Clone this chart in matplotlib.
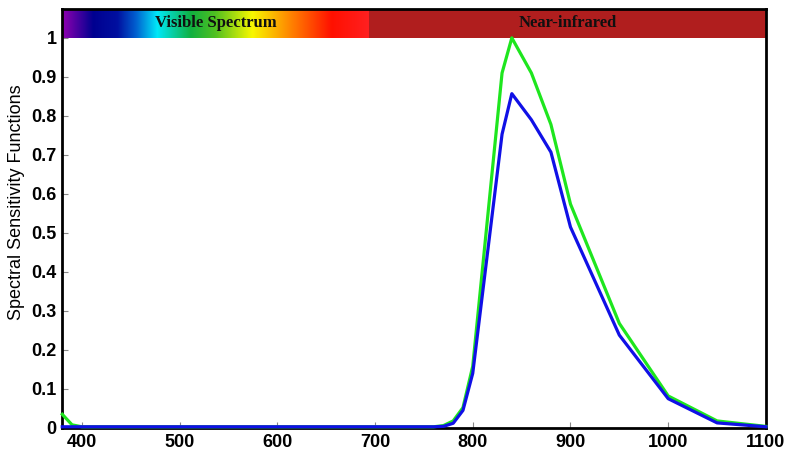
import numpy as np
import matplotlib.pyplot as plt
from matplotlib.colors import LinearSegmentedColormap

# wavelength samples (nm) and the two sensitivity curves
wl = [380, 390, 400, 450, 500, 550, 600, 650, 700, 750, 760, 770, 780, 790,
      800, 830, 840, 860, 880, 900, 950, 1000, 1050, 1100]
green = [0.035, 0.008, 0.003, 0.003, 0.003, 0.003, 0.003, 0.003, 0.003, 0.003, 0.003, 0.006, 0.018, 0.052,
         0.158, 0.91, 1.0, 0.91, 0.778, 0.574, 0.268, 0.082, 0.018, 0.004]
blue = [0.003, 0.003, 0.003, 0.003, 0.003, 0.003, 0.003, 0.003, 0.003, 0.003, 0.003, 0.004, 0.012, 0.045,
        0.14, 0.753, 0.857, 0.79, 0.707, 0.515, 0.238, 0.075, 0.013, 0.003]

yticks = [0, 0.1, 0.2, 0.3, 0.4, 0.5, 0.6, 0.7, 0.8, 0.9, 1]
ytick_labels = ["0", "0.1", "0.2", "0.3", "0.4", "0.5", "0.6", "0.7", "0.8", "0.9", "1"]
xticks = [400, 500, 600, 700, 800, 900, 1000, 1100]

band_edge = 694      # end of the visible band
band_low, band_high = 1.0, 1.074

# rainbow for the visible band
spectrum = LinearSegmentedColormap.from_list("spectrum", [
    (0.00, "#9000b0"),
    (0.10, "#000090"),
    (0.18, "#0010a0"),
    (0.24, "#0060d0"),
    (0.31, "#00e8f8"),
    (0.42, "#10b040"),
    (0.50, "#50c020"),
    (0.62, "#f8f800"),
    (0.75, "#ff8000"),
    (0.88, "#ff1000"),
    (1.00, "#ff2020"),
])

fig = plt.figure(figsize=(7.88, 4.5), dpi=100)
ax = fig.add_axes([0.079, 0.049, 0.893, 0.931])

grad = np.linspace(0, 1, 512).reshape(1, -1)
ax.imshow(grad, cmap=spectrum, aspect="auto",
          extent=[380, band_edge, band_low, band_high], zorder=1)
ax.fill_between([band_edge, 1100], band_low, band_high, color="#b01e1e", lw=0, zorder=1)

serif = ["Liberation Serif", "DejaVu Serif"]
ax.text((380 + band_edge) / 2, (band_low + band_high) / 2, "Visible Spectrum",
        ha="center", va="center", fontsize=12, fontweight="bold", family=serif, color="#101010", zorder=3)
ax.text((band_edge + 1100) / 2, (band_low + band_high) / 2, "Near-infrared",
        ha="center", va="center", fontsize=12, fontweight="bold", family=serif, color="#101010", zorder=3)

ax.plot(wl, green, color="#1ee61e", lw=2.3, zorder=4, clip_on=False)
ax.plot(wl, blue, color="#1010e6", lw=2.3, zorder=5, clip_on=False)

ax.set_xlim(380, 1100)
ax.set_ylim(0, band_high)
ax.set_xticks(xticks)
ax.set_yticks(yticks)
ax.set_yticklabels(ytick_labels)
ax.tick_params(direction="in", length=4, color="#888888", width=0.8, pad=4)
for lab in ax.get_xticklabels() + ax.get_yticklabels():
    lab.set_family(["Liberation Sans", "DejaVu Sans"])
    lab.set_fontweight("bold")
    lab.set_fontsize(13)
for sp in ax.spines.values():
    sp.set_linewidth(2)
    sp.set_color("black")
    sp.set_zorder(3)

ax.set_ylabel("Spectral Sensitivity Functions", fontsize=13,
              family=["Liberation Sans Narrow", "Liberation Sans"])
ax.yaxis.set_label_coords(-0.053, 0.54)

fig.savefig("out.png", dpi=100)
